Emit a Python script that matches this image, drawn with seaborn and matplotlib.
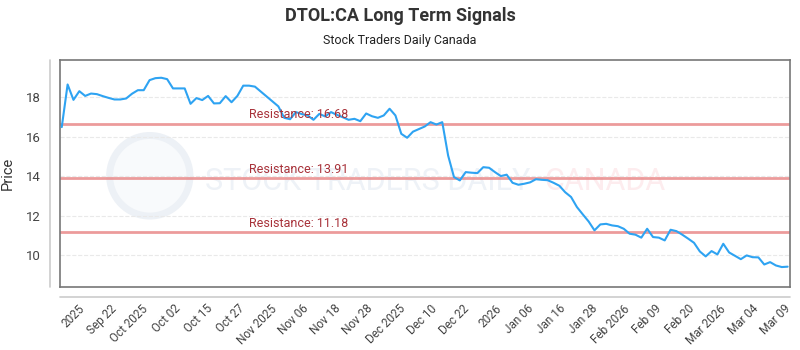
import numpy as np
import pandas as pd
import matplotlib
matplotlib.use("Agg")
import matplotlib.pyplot as plt
import seaborn as sns
from matplotlib.patches import Ellipse

# price series (one value per trading day)
prices = [
    16.5, 18.66, 17.88, 18.32, 18.08, 18.2, 18.17, 18.07, 17.98, 17.9,
    17.9, 17.95, 18.19, 18.37, 18.37, 18.88, 18.98, 19.0, 18.93, 18.46,
    18.46, 18.46, 17.68, 17.97, 17.87, 18.08, 17.7, 17.71, 18.07, 17.76,
    18.08, 18.6, 18.6, 18.55, 18.3, 18.05, 17.8, 17.55, 16.97, 16.9,
    17.26, 17.16, 17.09, 16.87, 17.17, 17.04, 17.26, 17.12, 17.0, 16.87,
    16.92, 16.8, 17.19, 17.05, 16.97, 17.09, 17.43, 17.09, 16.16, 15.96,
    16.27, 16.4, 16.53, 16.75, 16.63, 16.75, 15.06, 13.97, 13.8, 14.22,
    14.19, 14.17, 14.47, 14.44, 14.22, 14.02, 14.09, 13.68, 13.58, 13.63,
    13.7, 13.86, 13.83, 13.81, 13.68, 13.53, 13.2, 12.96, 12.45, 12.08,
    11.72, 11.27, 11.57, 11.6, 11.52, 11.48, 11.35, 11.1, 11.05, 10.9,
    11.35, 10.93, 10.9, 10.76, 11.3, 11.23, 11.05, 10.85, 10.64, 10.2,
    9.95, 10.22, 10.05, 10.59, 10.15, 9.98, 9.81, 10.0, 9.91, 9.9,
    9.54, 9.66, 9.49, 9.41, 9.43,
]
resistance = [16.68, 13.91, 11.18]
tick_labels = ["2025", "Sep 22", "Oct 2025", "Oct 02", "Oct 15", "Oct 27",
               "Nov 2025", "Nov 06", "Nov 18", "Nov 28", "Dec 2025", "Dec 10",
               "Dec 22", "2026", "Jan 06", "Jan 16", "Jan 28", "Feb 2026",
               "Feb 09", "Feb 20", "Mar 2026", "Mar 04", "Mar 09"]

df = pd.DataFrame({"day": np.arange(len(prices)), "price": prices})

sns.set_style("white")
plt.rcParams["font.family"] = ["Roboto", "DejaVu Sans"]

fig = plt.figure(figsize=(8, 3.5), dpi=100)
ax = fig.add_axes([0.075, 0.18, 0.9125, 0.6486])

# faint watermark behind the data
ax.add_patch(Ellipse((0.123, 0.49), 0.11, 0.355, transform=ax.transAxes,
                     facecolor="#f8fafc", edgecolor="#edf1f6", lw=5, zorder=0.5))
ax.text(0.199, 0.465, "STOCK TRADERS DAILY", transform=ax.transAxes, fontsize=22,
        color="#eef2f7", ha="left", va="center", zorder=0.6)
ax.text(0.664, 0.465, "CANADA", transform=ax.transAxes, fontsize=22,
        color="#fdecee", ha="left", va="center", zorder=0.6)

for lvl in resistance:
    ax.axhline(lvl, color="#e98a8a", lw=2, alpha=0.85, zorder=2)
    ax.text(df["day"].iloc[32], lvl + 0.12, f"Resistance: {lvl:.2f}",
            color="#a8323a", fontsize=9, ha="left", va="bottom", zorder=4)

sns.lineplot(data=df, x="day", y="price", ax=ax, color="#2ea3f2", lw=1.5, zorder=3)

ax.set_xlim(-0.3, len(prices) - 0.6)
ax.set_ylim(8.4, 19.9)
ax.set_yticks([10, 12, 14, 16, 18])
ax.yaxis.grid(True, color="#e9e9e9", ls="--", lw=0.8)
ax.set_axisbelow(True)

ticks = np.linspace(2.7, len(prices) - 1.7, len(tick_labels))
ax.set_xticks(ticks)
ax.set_xticklabels(tick_labels, rotation=45, ha="right", rotation_mode="anchor")
ax.tick_params(axis="x", length=0, pad=11, labelsize=8.5, colors="#444444")
ax.tick_params(axis="y", length=0, pad=14, labelsize=9.5, colors="#444444")
ax.set_xlabel("")
ax.set_ylabel("Price", fontsize=10.5, color="#333333", labelpad=8)

for s in ax.spines.values():
    s.set_color("#777777")
    s.set_linewidth(1.2)

# detached light axis lines
fig.add_artist(plt.Line2D([50 / 800, 50 / 800], [1 - 60 / 350, 1 - 287 / 350],
                          color="#cccccc", lw=1.2))
fig.add_artist(plt.Line2D([60 / 800, 790 / 800], [1 - 297 / 350, 1 - 297 / 350],
                          color="#cccccc", lw=1.2))

fig.text(0.5, 0.955, "DTOL:CA Long Term Signals", ha="center", va="center",
         fontsize=13, fontweight="bold", color="#333333")
fig.text(0.5, 0.885, "Stock Traders Daily Canada", ha="center", va="center",
         fontsize=9, color="#222222")

fig.savefig("out.png", dpi=100)
